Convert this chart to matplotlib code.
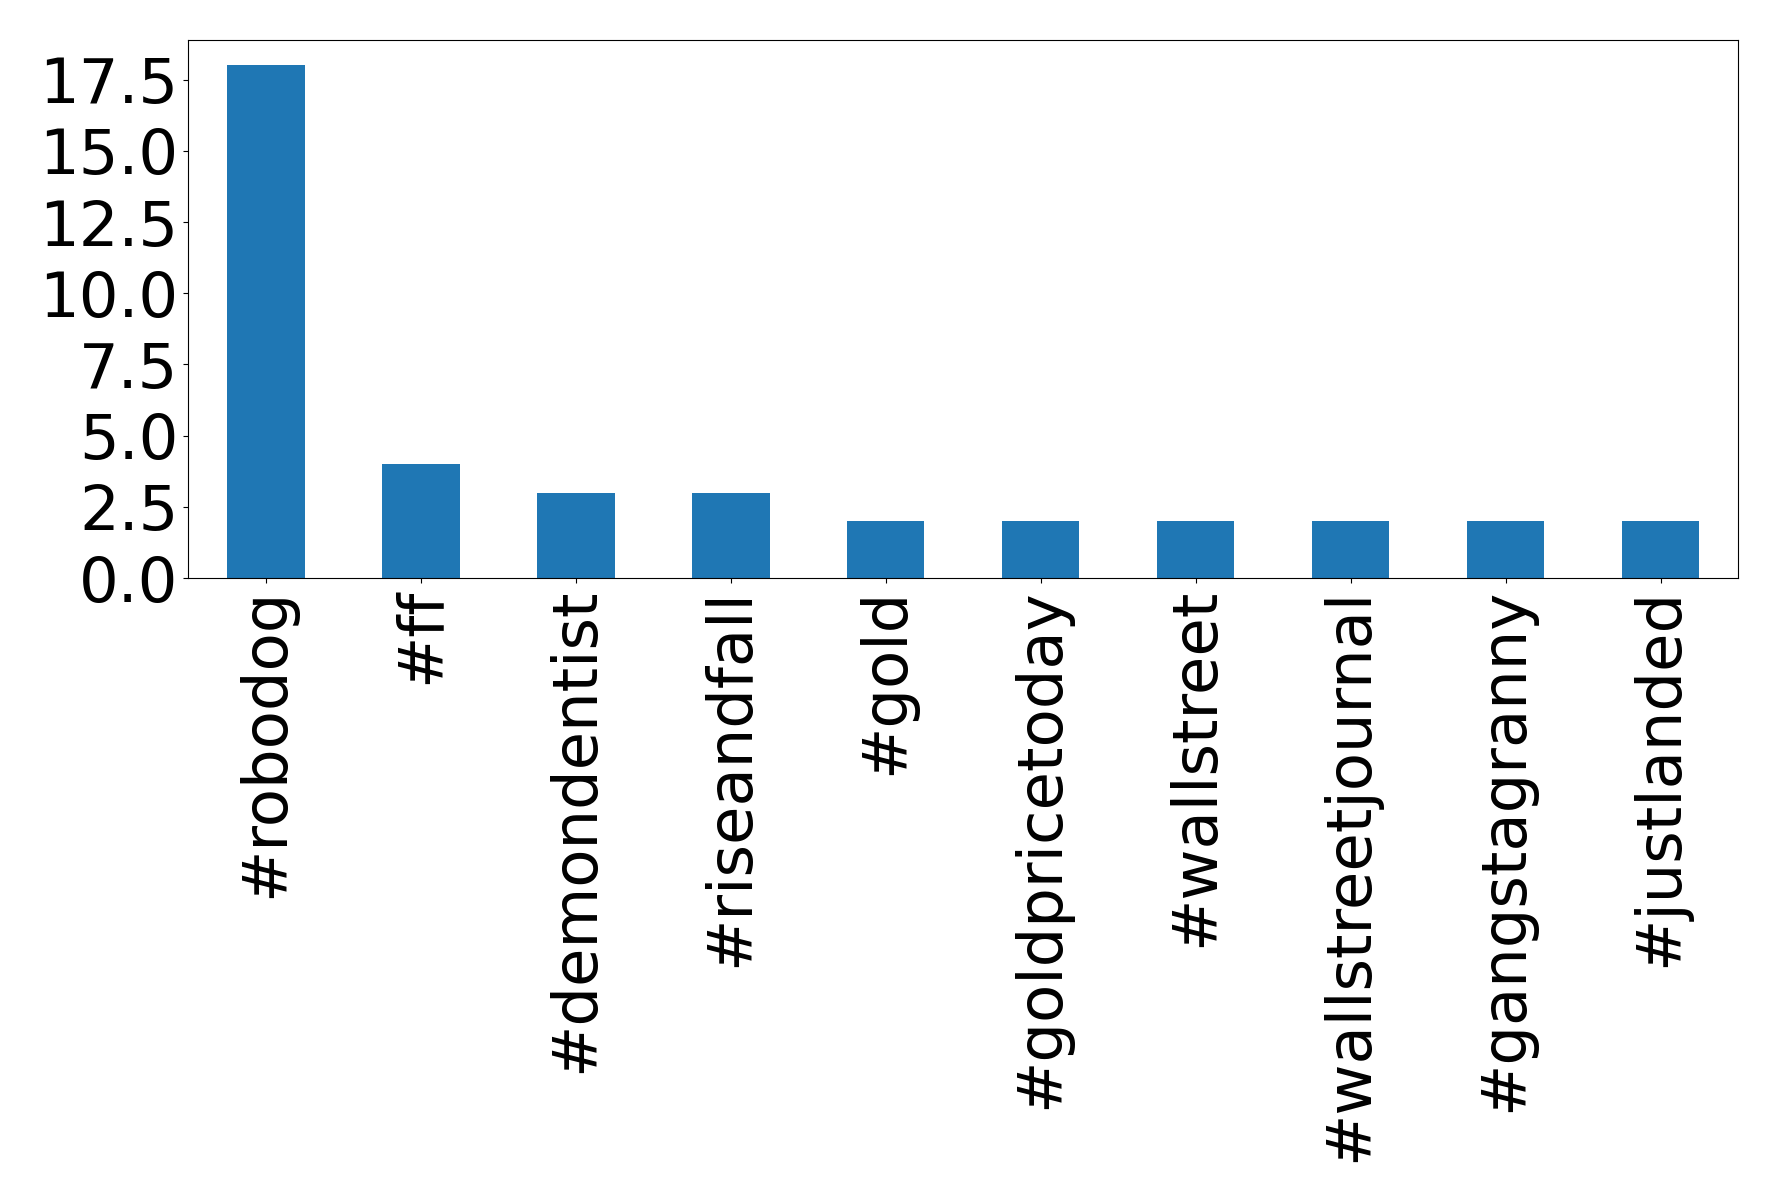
import matplotlib
matplotlib.use("Agg")
import matplotlib.pyplot as plt
import pandas as pd

hashtags = ["#robodog", "#ff", "#demondentist", "#riseandfall", "#gold",
            "#goldpricetoday", "#wallstreet", "#wallstreetjournal",
            "#gangstagranny", "#justlanded"]
counts = [18, 4, 3, 3, 2, 2, 2, 2, 2, 2]

s = pd.Series(counts, index=hashtags)

fig = plt.figure(figsize=(17.78, 12.02), dpi=100)
ax = fig.add_axes([0.106, 0.519, 0.8715, 0.448])
s.plot(kind="bar", ax=ax, fontsize=45, color="#1f77b4")
plt.setp(ax.get_xticklabels(), rotation=90)

fig.savefig("out.png", dpi=100)
